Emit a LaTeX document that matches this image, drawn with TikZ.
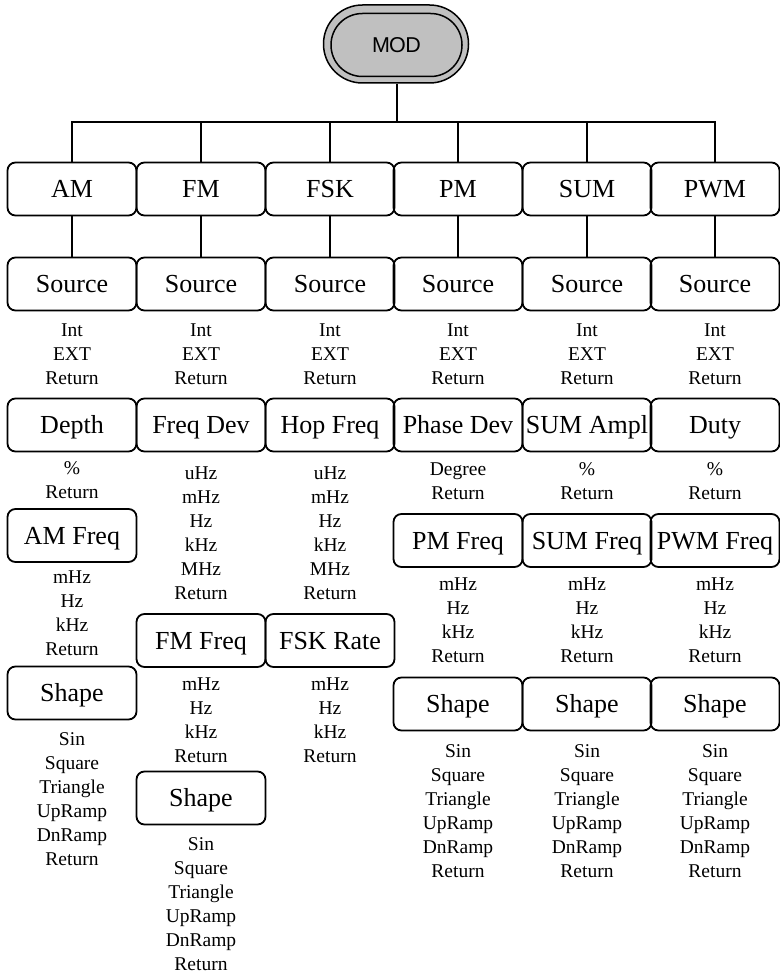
\documentclass[tikz,border=0pt]{standalone}
\usepackage{fontspec}
\setmainfont{Liberation Serif}
\newfontfamily\modfont{Liberation Sans}
\definecolor{modgray}{RGB}{192,192,192}
\tikzset{
  box/.style={draw, line width=1.8pt, rounded corners=8pt, minimum width=129pt,
    minimum height=53pt, inner xsep=1pt, inner ysep=0pt, text height=22pt, text depth=4.8pt,
    font=\fontsize{26}{30}\selectfont},
  small/.style={anchor=base, inner sep=0pt, font=\fontsize{19.5}{24}\selectfont},
  conn/.style={line width=2pt},
  modouter/.style={draw, line width=1.5pt, fill=modgray, rounded corners=38.9pt,
    minimum width=145pt, minimum height=78pt, inner sep=0pt},
  modinner/.style={draw, line width=1.5pt, fill=modgray, rounded corners=31.4pt,
    minimum width=131pt, minimum height=63pt, inner sep=0pt, text height=15.4pt, text depth=0pt,
    font=\modfont\fontsize{21.5}{24}\selectfont}
}
\newcommand\itemlist[4]{%
  \foreach \t [count=\i] in {#4} {\node[small] (#1-\i) at (#2, {#3+24*(\i-1)}) {\t};}}
\begin{document}
\begin{tikzpicture}[x=1pt, y=-1pt]
\useasboundingbox (0,0) rectangle (779,973);
% MOD key
\node[modouter] (modo) at (396,44) {};
\node[modinner] (mod) at (396.5,45) {M\kern-0.9pt O\kern-0.6pt D};
% top row
\def\ca{72}\def\cb{201}\def\cc{330}\def\cd{458}\def\ce{587}\def\cf{715}
\node[box] (am)  at (\ca,189) {AM};
\node[box] (fm)  at (\cb,189) {FM};
\node[box] (fsk) at (\cc,189) {FSK};
\node[box] (pm)  at (\cd,189) {PM};
\node[box] (sum) at (\ce,189) {SUM};
\node[box] (pwm) at (\cf,189) {PWM};
% bus
\coordinate (bus) at (0,122);
\draw[conn] (am.north) -- (am.north |- bus) -- (pwm.north |- bus) -- (pwm.north);
\draw[conn] (modo.south -| mod) -- (mod |- bus);
\foreach \n in {fm,fsk,pm,sum} {\draw[conn] (\n.north) -- (\n.north |- bus);}
% source row
\node[box] (src1) at (\ca,284) {Source};
\node[box] (src2) at (\cb,284) {Source};
\node[box] (src3) at (\cc,284) {Source};
\node[box] (src4) at (\cd,284) {Source};
\node[box] (src5) at (\ce,284) {Source};
\node[box] (src6) at (\cf,284) {Source};
\draw[conn] (am.south) -- (src1.north);
\draw[conn] (fm.south) -- (src2.north);
\draw[conn] (fsk.south) -- (src3.north);
\draw[conn] (pm.south) -- (src4.north);
\draw[conn] (sum.south) -- (src5.north);
\draw[conn] (pwm.south) -- (src6.north);
\itemlist{s1}{\ca}{336.5}{Int,EXT,Return}
\itemlist{s2}{\cb}{336.5}{Int,EXT,Return}
\itemlist{s3}{\cc}{336.5}{Int,EXT,Return}
\itemlist{s4}{\cd}{336.5}{Int,EXT,Return}
\itemlist{s5}{\ce}{336.5}{Int,EXT,Return}
\itemlist{s6}{\cf}{336.5}{Int,EXT,Return}
% third row
\node[box] (depth) at (\ca,425) {Depth};
\node[box] (fdev)  at (\cb,425) {Freq Dev};
\node[box] (hop)   at (\cc,425) {Hop Freq};
\node[box] (pdev)  at (\cd,425) {Phase Dev};
\node[box] (sampl) at (\ce,425) {SUM Ampl};
\node[box] (duty)  at (\cf,425) {Duty};
% column 1
\itemlist{d1}{\ca}{474.5}{\%,Return}
\node[box] (amf) at (\ca,535.5) {AM Freq};
\itemlist{f1}{\ca}{583.5}{mHz,Hz,kHz,Return}
\node[box] (shp1) at (\ca,693) {Shape};
\itemlist{h1}{\ca}{745.5}{Sin,Square,Triangle,UpRamp,DnRamp,Return}
% column 2
\itemlist{d2}{\cb}{479.5}{uHz,mHz,Hz,kHz,MHz,Return}
\node[box] (fmf) at (\cb,640.5) {FM Freq};
\itemlist{f2}{\cb}{690.5}{mHz,Hz,kHz,Return}
\node[box] (shp2) at (\cb,798) {Shape};
\itemlist{h2}{\cb}{850}{Sin,Square,Triangle,UpRamp,DnRamp,Return}
% column 3
\itemlist{d3}{\cc}{479.5}{uHz,mHz,Hz,kHz,MHz,Return}
\node[box] (fskr) at (\cc,640.5) {FSK Rate};
\itemlist{f3}{\cc}{690.5}{mHz,Hz,kHz,Return}
% columns 4-6
\itemlist{d4}{\cd}{475.5}{Degree,Return}
\itemlist{d5}{\ce}{475.5}{\%,Return}
\itemlist{d6}{\cf}{475.5}{\%,Return}
\node[box] (pmf)  at (\cd,540.5) {PM Freq};
\node[box] (sumf) at (\ce,540.5) {SUM Freq};
\node[box] (pwmf) at (\cf,540.5) {PWM Freq};
\itemlist{f4}{\cd}{590.5}{mHz,Hz,kHz,Return}
\itemlist{f5}{\ce}{590.5}{mHz,Hz,kHz,Return}
\itemlist{f6}{\cf}{590.5}{mHz,Hz,kHz,Return}
\node[box] (shp4) at (\cd,704) {Shape};
\node[box] (shp5) at (\ce,704) {Shape};
\node[box] (shp6) at (\cf,704) {Shape};
\itemlist{h4}{\cd}{757.5}{Sin,Square,Triangle,UpRamp,DnRamp,Return}
\itemlist{h5}{\ce}{757.5}{Sin,Square,Triangle,UpRamp,DnRamp,Return}
\itemlist{h6}{\cf}{757.5}{Sin,Square,Triangle,UpRamp,DnRamp,Return}
\end{tikzpicture}
\end{document}
